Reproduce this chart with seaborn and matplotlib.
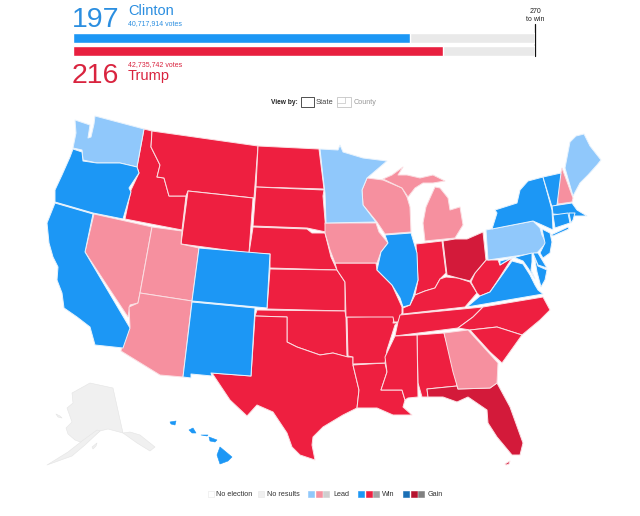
import matplotlib
matplotlib.use("Agg")
import matplotlib.pyplot as plt
import pandas as pd
import seaborn as sns
from matplotlib.patches import Rectangle

# results
candidates = ["Clinton", "Trump"]
electoral = [197, 216]
votes = ["40,717,914 votes", "42,735,742 votes"]
to_win = 270

BLUE_WIN = "#1c97f5"
RED_WIN = "#ee1f40"
BLUE_LEAD = "#90c8fb"
RED_LEAD = "#f6909f"
RED_GAIN = "#d31a3a"
GRAY_NONE = "#f0f0f0"

# state outlines (x, y on a 640x516 grid)
WA = [(75,120),(90,125),(88,138),(91,137),(94,124),(95,116),(144,129),(137,167),(120,163),(97,163),(83,160),(82,150),(73,148),(76,133)]
OR = [(73,149),(82,152),(83,161),(97,163),(120,163),(137,167),(139,173),(129,188),(131,192),(123,219),(93,213),(55,202),(55,190),(62,175),(70,157)]
CA = [(55,203),(93,214),(85,252),(130,328),(123,348),(95,345),(90,327),(77,317),(64,308),(62,293),(57,280),(58,267),(53,257),(49,243),(47,223)]
NV = [(94,214),(152,227),(140,293),(138,303),(130,305),(128,317),(85,252)]
UT = [(152,227),(182,231),(181,244),(199,248),(192,301),(140,293)]
AZ = [(140,293),(192,301),(183,377),(160,375),(121,351),(125,333),(130,327),(129,307),(138,303)]
ID = [(144,129),(152,131),(151,147),(160,165),(157,177),(164,178),(169,196),(186,196),(182,230),(125,219),(131,190),(139,173),(137,167)]
MT = [(152,131),(258,146),(254,198),(188,191),(186,196),(169,196),(164,178),(157,177),(160,165),(151,147)]
WY = [(188,191),(253,198),(249,253),(181,244)]
CO = [(199,248),(270,254),(267,308),(192,301)]
NM = [(192,302),(255,308),(251,376),(211,373),(212,376),(191,374),(191,378),(183,377)]
ND = [(258,146),(319,149),(324,189),(256,187)]
SD = [(256,187),(324,190),(323,196),(326,232),(307,228),(253,226)]
NE = [(253,227),(307,229),(312,233),(325,233),(331,257),(337,270),(270,268),(270,254),(249,253)]
KS = [(270,269),(337,270),(345,282),(345,311),(267,309)]
OK = [(257,310),(345,311),(346,317),(347,357),(333,353),(320,355),(297,347),(287,342),(287,317),(255,316)]
TX = [(255,316),(287,317),(287,342),(297,347),(320,355),(333,353),(348,357),(353,357),(353,365),(359,390),(357,408),(343,415),(323,427),(313,437),(312,445),(315,460),(300,455),(292,447),(287,433),(273,412),(257,405),(247,416),(230,400),(212,373),(251,376)]
LA = [(353,365),(385,363),(387,372),(381,390),(402,390),(405,400),(403,407),(412,415),(393,415),(377,408),(357,408),(359,390)]
AR = [(347,317),(395,316),(393,323),(398,323),(395,325),(387,350),(385,363),(353,364),(353,357),(348,356)]
MO = [(335,263),(376,263),(377,270),(392,285),(402,307),(402,313),(398,322),(394,322),(393,317),(346,317),(345,282),(337,270)]
IA = [(325,223),(376,223),(379,232),(388,243),(381,252),(377,263),(335,263),(330,250),(325,233)]
MN = [(320,149),(338,150),(340,145),(343,152),(363,158),(387,161),(367,178),(362,190),(363,205),(376,222),(326,223),(325,193),(323,177)]
WI = [(367,178),(383,180),(402,188),(407,197),(410,207),(411,232),(385,234),(377,222),(363,205),(362,190)]
MI_UP = [(383,179),(392,175),(403,167),(398,175),(407,175),(420,178),(433,175),(445,181),(433,183),(423,183),(415,188),(408,197),(402,188)]
MI_LOW = [(435,187),(440,188),(448,198),(450,210),(460,207),(463,225),(455,238),(425,241),(423,223),(426,207),(430,198)]
IL = [(385,235),(411,233),(417,253),(418,280),(413,297),(410,305),(403,307),(400,298),(392,285),(377,270),(381,252),(388,243)]
IN = [(416,244),(442,241),(446,273),(440,279),(435,288),(425,291),(415,295),(418,280)]
OH = [(443,241),(455,239),(467,239),(483,232),(486,260),(475,273),(470,281),(458,278),(447,275)]
KY = [(415,295),(425,291),(435,288),(440,279),(446,277),(458,278),(470,282),(477,293),(465,307),(403,314),(403,308),(410,305)]
WV = [(471,282),(475,273),(486,260),(498,260),(500,265),(512,258),(498,280),(490,292),(480,296),(477,293)]
VA = [(467,307),(480,296),(490,292),(500,278),(512,261),(523,264),(530,275),(535,285),(538,290),(543,294)]
TN = [(400,315),(483,307),(473,317),(458,328),(395,336),(398,322)]
NC = [(483,307),(543,297),(550,310),(540,320),(522,335),(497,327),(470,330),(458,328),(473,317)]
SC = [(470,330),(497,327),(522,335),(502,363),(490,352)]
GA = [(444,333),(468,330),(498,363),(497,383),(490,388),(458,389),(453,372)]
AL = [(417,335),(444,333),(455,372),(457,386),(427,389),(428,397),(422,397),(418,383)]
MS = [(395,336),(417,335),(418,397),(408,398),(405,400),(402,390),(381,390),(387,372),(385,357)]
FL = [(427,389),(457,386),(458,389),(490,388),(497,383),(510,407),(523,443),(520,455),(512,455),(497,437),(488,423),(487,410),(468,397),(457,402),(443,397),(428,397)]
FL_KEYS = [(505,464),(510,461),(509,464),(506,465)]
PA = [(486,230),(533,221),(540,228),(542,235),(546,243),(537,253),(488,260)]
NY = [(492,229),(497,213),(495,210),(517,203),(520,190),(528,181),(543,177),(552,210),(553,230),(542,225),(533,221)]
LI = [(551,235),(568,227),(569,229),(553,236)]
NJ = [(542,229),(550,233),(552,242),(550,253),(543,258),(540,253),(545,243)]
VT = [(543,177),(561,173),(557,205),(552,207)]
NH = [(562,168),(573,198),(572,202),(558,204),(557,190)]
ME = [(565,168),(570,142),(576,136),(584,134),(590,146),(601,160),(597,165),(588,175),(580,183),(573,196)]
MA = [(552,206),(572,203),(577,210),(587,216),(575,216),(553,214)]
CT = [(553,215),(568,213),(570,223),(555,228)]
RI = [(569,213),(575,213),(573,220),(571,223)]
MD_WEST = [(500,261),(532,253),(532,262),(531,270),(535,279),(528,268),(523,261),(513,257),(500,265)]
MD_EAST = [(534,254),(538,266),(547,270),(545,280),(541,287),(537,272)]
DE = [(533,253),(538,253),(547,268),(538,265)]
AK_MAIN = [(90,383),(113,388),(123,433),(108,429),(100,431),(92,437),(83,443),(75,440),(68,434),(66,428),(72,422),(67,408),(73,403),(72,393)]
AK_PENINSULA = [(100,431),(85,445),(72,456),(47,465),(68,452),(82,441),(97,430)]
AK_PANHANDLE = [(123,433),(130,432),(140,435),(155,447),(150,451),(137,443)]
AK_KODIAK = [(92,447),(97,443),(96,446),(93,449)]
AK_STLAWRENCE = [(56,414),(60,416),(62,418),(58,417)]
HI_KAUAI = [(170,422),(176,421),(175,425),(171,424)]
HI_OAHU = [(189,430),(193,428),(196,433),(192,433)]
HI_MAUI = [(209,437),(217,440),(215,442),(210,441)]
HI_MOLOKAI = [(201,435),(208,435),(207,436)]
HI_BIG = [(220,447),(232,457),(228,461),(220,464),(217,455)]

blue_win = [OR, CA, CO, NM, IL, VA, NY, LI, NJ, VT, MA, CT, RI, MD_WEST, MD_EAST, DE]
blue_lead = [WA, MN, PA, ME]
red_win = [ID, MT, WY, ND, SD, NE, KS, OK, TX, LA, AR, MO, IN, KY, WV, TN, NC, SC, AL, MS]
red_lead = [NV, UT, AZ, IA, WI, MI_UP, MI_LOW, GA, NH]
red_gain = [OH, FL, FL_KEYS]
alaska = [AK_MAIN, AK_PENINSULA, AK_PANHANDLE, AK_KODIAK, AK_STLAWRENCE]
hawaii = [HI_KAUAI, HI_OAHU, HI_MAUI, HI_MOLOKAI, HI_BIG]

legend_groups = [
    ("No election", ["#ffffff"], 208, 216),
    ("No results", [GRAY_NONE], 258, 267),
    ("Lead", [BLUE_LEAD, RED_LEAD, "#cfcfcf"], 308, 333),
    ("Win", [BLUE_WIN, RED_WIN, "#a3a3a3"], 358, 382),
    ("Gain", ["#1a6fb5", "#b5142f", "#808080"], 403, 428),
]

sns.set_theme(style="white")
plt.rcParams["font.family"] = ["Liberation Sans", "DejaVu Sans"]

fig = plt.figure(figsize=(6.4, 5.16), dpi=100)

# whole figure axes, one unit is one pixel
ax = fig.add_axes([0, 0, 1, 1])
ax.set_xlim(0, 640)
ax.set_ylim(516, 0)
ax.axis("off")

def draw_group(shapes, color, edge="#fbdfe3", lw=0.7):
    for shape in shapes:
        xs, ys = zip(*shape)
        ax.fill(xs, ys, facecolor=color, edgecolor=edge, linewidth=lw, joinstyle="round")

draw_group(red_win, RED_WIN)
draw_group(red_gain, RED_GAIN)
draw_group(red_lead, RED_LEAD)
draw_group(blue_lead, BLUE_LEAD, edge="#e8f3fd")
draw_group(blue_win, BLUE_WIN, edge="#e8f3fd")
draw_group(alaska, GRAY_NONE, edge="#e4e4e4", lw=0.4)
draw_group(hawaii, BLUE_WIN, edge=BLUE_WIN, lw=0.4)

# header numbers
ax.text(72, 27, str(electoral[0]), color="#2b8ee0", fontsize=20.5, va="baseline")
ax.text(128, 15, candidates[0], color="#2b8ee0", fontsize=10.5, va="baseline")
ax.text(128, 25, votes[0], color="#2b8ee0", fontsize=5, va="baseline")
ax.text(72, 83, str(electoral[1]), color="#d9243f", fontsize=20.5, va="baseline")
ax.text(128, 66, votes[1], color="#d9243f", fontsize=5, va="baseline")
ax.text(128, 80, candidates[1], color="#d9243f", fontsize=10.5, va="baseline")
ax.text(535, 15.5, f"{to_win}\nto win", color="#222222", fontsize=5, ha="center", va="center", linespacing=1.25)

# view toggle
ax.text(271, 102, "View by:", color="#222222", fontsize=4.8, fontweight="bold", va="center")
ax.add_patch(Rectangle((301, 97), 13, 10, facecolor="white", edgecolor="#333333", lw=0.6))
ax.text(316, 102, "State", color="#444444", fontsize=5.4, va="center")
ax.add_patch(Rectangle((337, 97), 14, 10, facecolor="white", edgecolor="#c4c4c4", lw=0.6))
ax.plot([345, 345, 337], [97, 103, 103], color="#c4c4c4", lw=0.5)
ax.text(354, 102, "County", color="#999999", fontsize=5.2, va="center")

# legend along the bottom
for label, colors, x0, x_text in legend_groups:
    for i, c in enumerate(colors):
        ax.add_patch(Rectangle((x0 + i * 7.6, 491), 6, 6, facecolor=c,
                               edgecolor="#e6e6e6" if len(colors) == 1 else c, lw=0.4))
    ax.text(x_text, 494, label, color="#333333", fontsize=5.2, va="center")

# vote bars
bars = pd.DataFrame({"candidate": candidates, "electoral": electoral})
bar_ax = fig.add_axes([73 / 640, 1 - 57.7 / 516, (535 - 73) / 640, 26 / 516])
sns.barplot(data=bars, x=[to_win, to_win], y="candidate", color="#e9e9e9", width=0.75,
            saturation=1, ax=bar_ax)
sns.barplot(data=bars, x="electoral", y="candidate", hue="candidate",
            palette=[BLUE_WIN, "#e8203f"], width=0.75, saturation=1, legend=False, ax=bar_ax)
bar_ax.set_xlim(0, to_win)
bar_ax.set_ylim(1.5, -0.5)
bar_ax.axis("off")
ax.plot([535, 535], [24, 56], color="#111111", lw=0.9)

fig.savefig("out.png", dpi=100)
